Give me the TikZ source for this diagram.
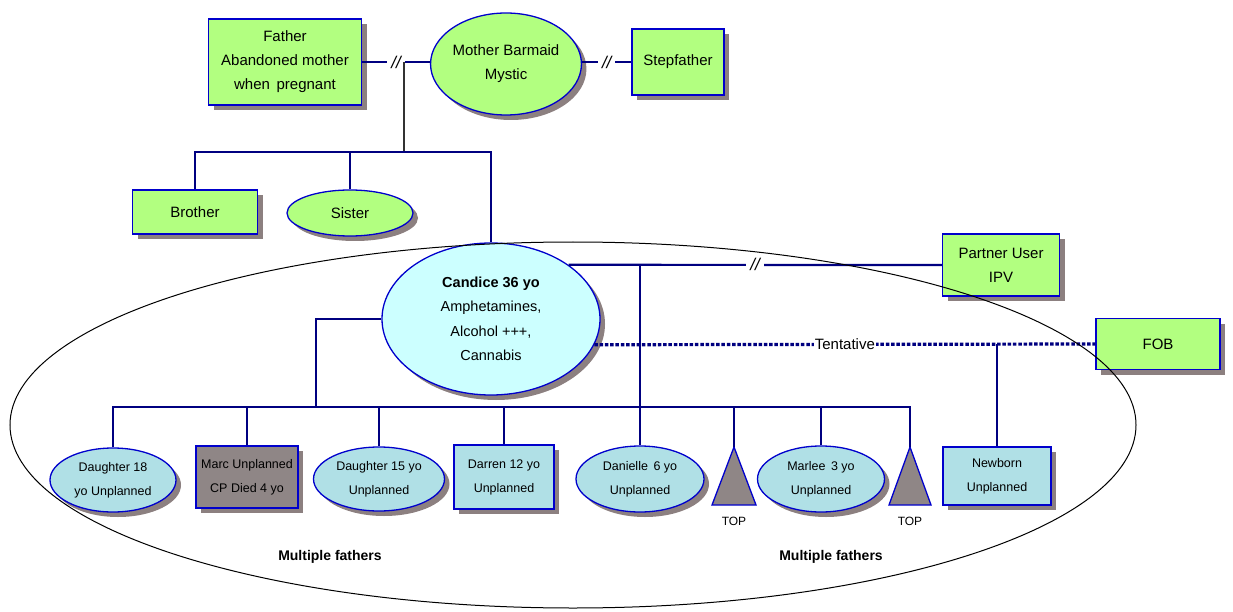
\documentclass[tikz,border=0pt]{standalone}
\usepackage{fontspec}
\setmainfont{Liberation Sans}
\usetikzlibrary{shapes.geometric,shadows}
\definecolor{leaf}{RGB}{178,255,128}
\definecolor{ice}{RGB}{204,255,255}
\definecolor{powder}{RGB}{176,224,230}
\definecolor{ash}{RGB}{143,134,134}
\definecolor{rim}{RGB}{0,0,204}
\definecolor{navy}{RGB}{0,0,128}
\definecolor{shade}{RGB}{140,128,128}
\definecolor{stem}{RGB}{50,50,50}

\begin{document}
\begin{tikzpicture}[x=1pt,y=-1pt,
  base/.style={draw=rim, line width=1.3pt, align=center, inner sep=0pt,
    drop shadow={shadow xshift=5pt, shadow yshift=-5pt, fill=shade, opacity=1}},
  bigtext/.style={font=\fontsize{15}{24}\selectfont},
  kidtext/.style={font=\fontsize{12.5}{24}\selectfont},
  gbox/.style={base, bigtext, rectangle, fill=leaf},
  gell/.style={base, bigtext, ellipse, fill=leaf},
  kbox/.style={base, kidtext, rectangle, fill=powder},
  kell/.style={base, kidtext, ellipse, fill=powder},
  conn/.style={draw=navy, line width=2.2pt},
  dotline/.style={draw=navy, line width=3.2pt, dash pattern=on 3.5pt off 1.8pt},
  cut/.style={fill=white, inner xsep=4pt, inner ysep=2pt, font=\fontsize{17}{17}\selectfont\itshape},
  tri/.style={draw=rim, fill=ash, line width=1.3pt, line join=miter},
  note/.style={font=\fontsize{12}{12}\selectfont},
  heading/.style={font=\fontsize{14}{14}\selectfont\bfseries}
]
\useasboundingbox (0,0) rectangle (1233,612);

% parents' generation
\node[gbox, minimum width=153, minimum height=86] (father) at (285,62) {Father\\Abandoned mother\\when\,  pregnant};
\node[gell, minimum width=148, minimum height=102] (mother) at (506,64) {Mother Barmaid\\Mystic};
\node[gbox, minimum width=92, minimum height=66] (stepf) at (678,62) {Stepfather};

% siblings
\node[gbox, minimum width=125, minimum height=44] (brother) at (195,212) {Brother};
\node[gell, minimum width=126, minimum height=46] (sister) at (350,213) {Sister};

% Candice and partners
\node[base, ellipse, fill=ice, font=\fontsize{14.5}{24.5}\selectfont, minimum width=218, minimum height=152] (candice) at (491,319)
  {\textbf{Candice 36 yo}\\Amphetamines,\\Alcohol +++,\\Cannabis};
\node[gbox, minimum width=117, minimum height=62] (partner) at (1001,265) {Partner User\\IPV};
\node[gbox, minimum width=124, minimum height=51] (fob) at (1158,344) {FOB};

% children
\node[kell, minimum width=126, minimum height=64] (d18) at (113,480) {Daughter 18\\yo Unplanned};
\node[kbox, fill=ash, minimum width=102, minimum height=62] (marc) at (247,477) {Marc Unplanned\\CP Died 4 yo};
\node[kell, minimum width=131, minimum height=64] (d15) at (379,479) {Daughter 15 yo\\Unplanned};
\node[kbox, minimum width=100, minimum height=64] (darren) at (504,477) {Darren 12 yo\\Unplanned};
\node[kell, minimum width=128, minimum height=66] (danielle) at (640,479) {Danielle\, 6 yo\\Unplanned};
\node[kell, minimum width=127, minimum height=66] (marlee) at (821,479) {Marlee\, 3 yo\\Unplanned};
\node[kbox, minimum width=108, minimum height=58] (newborn) at (997,476) {Newborn\\Unplanned};

% terminations of pregnancy
\coordinate (top1) at (734,447);
\coordinate (top2) at (910,447);
\draw[tri] (top1) -- ++(-22,58) -- ++(44,0) -- cycle;
\draw[tri] (top2) -- ++(-21,58) -- ++(42,0) -- cycle;
\node[note] (toplab1) at (734,521) {TOP};
\node[note] (toplab2) at (910,521) {TOP};

% junction points
\coordinate (fm) at (404,62);
\coordinate (sib) at (404,152);
\coordinate (kidbar) at (316,407);

% parents' links
\draw[conn] (father.east) -- node[cut]{//} (mother.west |- father.east);
\draw[conn] (mother.east |- stepf.west) -- node[cut]{//} (stepf.west);
\draw[draw=stem, line width=2pt] (fm) -- (sib);
\draw[conn] (brother.north) |- (sib) -| (candice.north);
\draw[conn] (sister.north) -- (sister.north |- sib);

% Candice's partners
\draw[conn] (candice.north east) -- node[cut]{//} (partner.west);
\draw[conn] (danielle.north |- candice.north east) -- (danielle.north);
\draw[dotline] (candice.-14) -- node[fill=white, inner sep=1pt, font=\fontsize{15}{15}\selectfont]{Tentative} (fob.west);
\draw[conn] (newborn.north |- fob.west) -- (newborn.north);

% children's links
\draw[conn] (candice.west) -| (kidbar);
\draw[conn] (d18.north) |- (kidbar) -| (top2);
\foreach \k in {marc,d15,darren,marlee}
  \draw[conn] (\k.north) -- (\k.north |- kidbar);
\draw[conn] (top1) -- (top1 |- kidbar);

% household boundary
\draw[black, line width=1pt] (573,425) ellipse [x radius=563, y radius=183];

\node[heading] (mf1) at (330,557) {Multiple fathers};
\node[heading] (mf2) at (831,557) {Multiple fathers};
\end{tikzpicture}
\end{document}
